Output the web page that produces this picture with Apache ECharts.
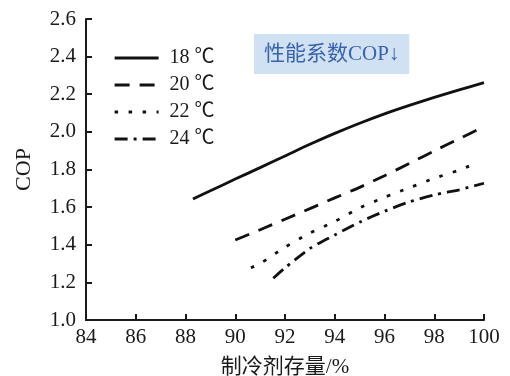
<!DOCTYPE html>
<html><head><meta charset="utf-8">
<script src="https://cdn.jsdelivr.net/npm/echarts@6/dist/echarts.min.js"></script>
<style>html,body{margin:0;padding:0;background:#fff}#c{width:510px;height:376px}</style>
</head><body><div id="c"></div>
<script>
var seriesNames = ['18 ℃', '20 ℃', '22 ℃', '24 ℃'];
var x18 = [88.3, 89, 90, 91, 92, 93, 94, 95, 96, 97, 98, 99, 100];
var y18 = [1.643, 1.687, 1.749, 1.810, 1.872, 1.934, 1.992, 2.046, 2.096, 2.141, 2.183, 2.223, 2.262];
var x20 = [90, 91, 92, 93, 94, 95, 96, 97, 98, 99, 100];
var y20 = [1.425, 1.48, 1.536, 1.592, 1.649, 1.705, 1.767, 1.832, 1.899, 1.963, 2.028];
var x22 = [90.63, 91, 92, 93, 94, 95, 96, 97, 98, 99, 99.4];
var y22 = [1.278, 1.30, 1.387, 1.462, 1.524, 1.596, 1.652, 1.703, 1.753, 1.797, 1.818];
var x24 = [91.53, 92, 93, 94, 95, 96, 97, 98, 99, 100];
var y24 = [1.222, 1.277, 1.38, 1.452, 1.52, 1.578, 1.628, 1.665, 1.692, 1.727];
var xTicks = [84, 86, 88, 90, 92, 94, 96, 98, 100];
var yTicks = [1.0, 1.2, 1.4, 1.6, 1.8, 2.0, 2.2, 2.4, 2.6];
var annotation = '性能系数COP↓';

function pairs(xs, ys) { return xs.map(function (v, i) { return [v, ys[i]]; }); }
var dashes = ['solid', [15, 10], [3.5, 10.5], [13, 6, 3, 6]];
var datasets = [pairs(x18, y18), pairs(x20, y20), pairs(x22, y22), pairs(x24, y24)];
var serif = 'Liberation Serif, Noto Sans CJK SC, serif';
var axisColor = '#1a1a1a';

var chart = echarts.init(document.getElementById('c'));
chart.setOption({
  animation: false,
  backgroundColor: '#fff',
  grid: { left: 86, right: 26, top: 19, bottom: 56, containLabel: false, outerBoundsMode: 'none' },
  title: {
    text: annotation,
    left: 254, top: 34,
    backgroundColor: '#cfe1f2',
    padding: [9, 10, 9, 10],
    textStyle: { color: '#3b62ae', fontFamily: serif, fontSize: 21, fontWeight: 'normal', lineHeight: 22 }
  },
  legend: {
    orient: 'vertical', left: 113, top: 48, padding: 0,
    itemWidth: 44, itemHeight: 16, itemGap: 7,
    itemStyle: { opacity: 0 },
    lineStyle: { opacity: 1, width: 3.2 },
    textStyle: { fontFamily: serif, fontSize: 20, lineHeight: 16, color: '#1a1a1a', padding: [0, 0, 0, 6] },
    data: seriesNames
  },
  xAxis: {
    type: 'value', min: xTicks[0], max: xTicks[xTicks.length - 1], interval: 2,
    name: '制冷剂存量/%', nameLocation: 'middle', nameGap: 37,
    nameTextStyle: { fontFamily: serif, fontSize: 21, color: '#1a1a1a' },
    axisLine: { lineStyle: { color: axisColor, width: 2 } },
    axisTick: { inside: true, length: 6, lineStyle: { color: axisColor, width: 2 } },
    axisLabel: { fontFamily: serif, fontSize: 21, color: '#1a1a1a', margin: 7 },
    splitLine: { show: false }
  },
  yAxis: {
    type: 'value', min: yTicks[0], max: yTicks[yTicks.length - 1], interval: 0.2,
    name: 'COP', nameLocation: 'middle', nameGap: 51,
    nameTextStyle: { fontFamily: serif, fontSize: 22, color: '#1a1a1a' },
    axisLine: { show: true, lineStyle: { color: axisColor, width: 2 } },
    axisTick: { show: true, inside: true, length: 6, lineStyle: { color: axisColor, width: 2 } },
    axisLabel: { fontFamily: serif, fontSize: 21, color: '#1a1a1a', margin: 10,
      formatter: function (v) { return v.toFixed(1); } },
    splitLine: { show: false }
  },
  series: seriesNames.map(function (n, i) {
    return {
      name: n, type: 'line', data: datasets[i], smooth: 0.25,
      symbol: 'none',
      lineStyle: { color: '#111', width: 2.8, type: dashes[i], cap: 'butt' },
      itemStyle: { color: '#111' }
    };
  })
});
</script></body></html>
